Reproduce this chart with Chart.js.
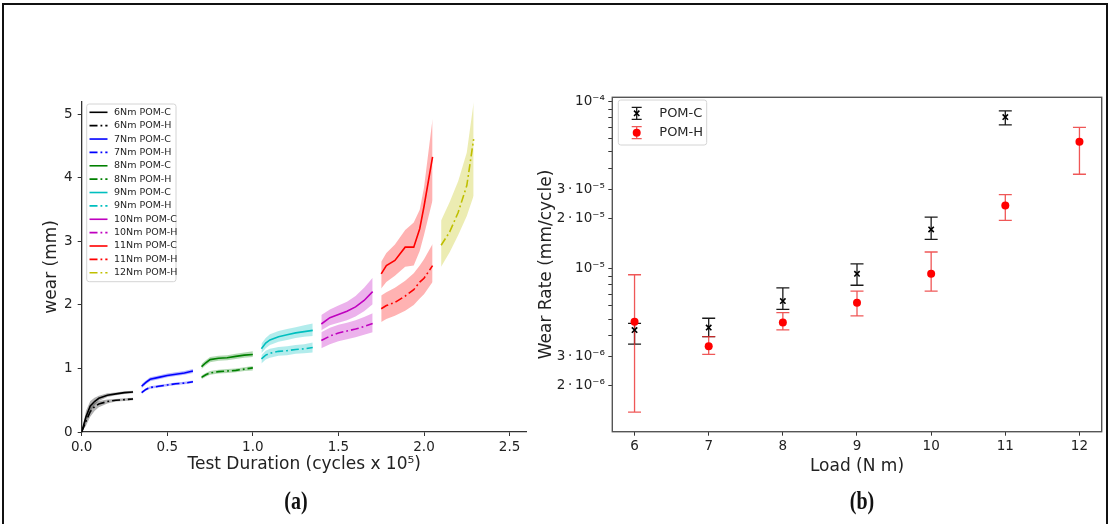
<!DOCTYPE html>
<html>
<head>
<meta charset="utf-8">
<script src="https://cdn.jsdelivr.net/npm/chart.js@4.4.0/dist/chart.umd.min.js"></script>
<style>
  html, body { margin: 0; padding: 0; background: #fff; }
  #page { position: relative; width: 1110px; height: 524px; overflow: hidden; background: #fff; }
  #frame { position: absolute; left: 2px; top: 3px; width: 1106px; height: 540px; border: 2px solid #111; box-sizing: border-box; }
  .panel { position: absolute; top: 0; height: 524px; }
  #wearBox { left: 0; width: 545px; }
  #rateBox { left: 520px; width: 590px; }
  .caption { position: absolute; top: 487px; width: 60px; text-align: center;
             font: bold 25px "Liberation Serif", "DejaVu Serif", serif; color: #111; transform: scaleX(0.8); }
</style>
</head>
<body>
<div id="page">
  <div id="frame"></div>
  <div class="panel" id="wearBox"><canvas id="wear"></canvas></div>
  <div class="panel" id="rateBox"><canvas id="rate"></canvas></div>
  <div class="caption" style="left: 266px;">(a)</div>
  <div class="caption" style="left: 832px;">(b)</div>
</div>
<script>
// ---- (a) wear vs test duration, mean curve with min/max band per run ----
const DUR_6 = [0, 0.025, 0.05, 0.075, 0.1, 0.15, 0.2, 0.25, 0.3];
const C6 = [0, 0.24, 0.41, 0.48, 0.53, 0.58, 0.60, 0.62, 0.63];
const C6_LO = [0, 0.14, 0.32, 0.42, 0.49, 0.55, 0.58, 0.60, 0.61];
const C6_HI = [0, 0.33, 0.49, 0.54, 0.57, 0.61, 0.62, 0.64, 0.65];
const H6 = [0, 0.17, 0.32, 0.40, 0.44, 0.48, 0.50, 0.51, 0.52];
const H6_LO = [0, 0.10, 0.24, 0.33, 0.39, 0.45, 0.48, 0.49, 0.50];
const H6_HI = [0, 0.26, 0.40, 0.46, 0.49, 0.51, 0.52, 0.53, 0.54];

const DUR_7 = [0.35, 0.375, 0.4, 0.45, 0.5, 0.55, 0.6, 0.65];
const C7 = [0.72, 0.78, 0.83, 0.86, 0.89, 0.91, 0.93, 0.96];
const C7_LO = [0.69, 0.75, 0.80, 0.83, 0.86, 0.88, 0.90, 0.93];
const C7_HI = [0.75, 0.81, 0.86, 0.89, 0.92, 0.94, 0.96, 0.99];
const H7 = [0.62, 0.67, 0.70, 0.72, 0.74, 0.76, 0.77, 0.79];
const H7_LO = [0.60, 0.65, 0.68, 0.70, 0.72, 0.74, 0.75, 0.77];
const H7_HI = [0.64, 0.69, 0.72, 0.74, 0.76, 0.78, 0.79, 0.81];

const DUR_8 = [0.7, 0.725, 0.75, 0.8, 0.85, 0.9, 0.95, 1.0];
const C8 = [1.03, 1.09, 1.14, 1.16, 1.17, 1.19, 1.21, 1.22];
const C8_LO = [0.99, 1.05, 1.10, 1.12, 1.13, 1.15, 1.17, 1.18];
const C8_HI = [1.07, 1.13, 1.18, 1.20, 1.21, 1.23, 1.25, 1.27];
const H8 = [0.86, 0.90, 0.93, 0.95, 0.96, 0.97, 0.99, 1.01];
const H8_LO = [0.83, 0.87, 0.90, 0.92, 0.93, 0.94, 0.96, 0.97];
const H8_HI = [0.89, 0.93, 0.96, 0.98, 0.99, 1.00, 1.02, 1.04];

const DUR_9 = [1.05, 1.075, 1.1, 1.15, 1.2, 1.25, 1.3, 1.35];
const C9 = [1.31, 1.40, 1.45, 1.50, 1.53, 1.56, 1.58, 1.60];
const C9_LO = [1.24, 1.32, 1.37, 1.42, 1.45, 1.48, 1.50, 1.51];
const C9_HI = [1.39, 1.48, 1.54, 1.59, 1.62, 1.65, 1.68, 1.71];
const H9 = [1.15, 1.21, 1.24, 1.27, 1.28, 1.30, 1.31, 1.33];
const H9_LO = [1.08, 1.14, 1.17, 1.20, 1.21, 1.23, 1.24, 1.25];
const H9_HI = [1.21, 1.28, 1.31, 1.34, 1.35, 1.37, 1.38, 1.41];

const DUR_10 = [1.4, 1.45, 1.5, 1.55, 1.6, 1.65, 1.7];
const C10 = [1.70, 1.80, 1.85, 1.90, 1.97, 2.07, 2.21];
const C10_LO = [1.60, 1.68, 1.72, 1.76, 1.82, 1.90, 2.01];
const C10_HI = [1.84, 1.93, 1.99, 2.05, 2.14, 2.27, 2.43];
const H10 = [1.44, 1.51, 1.56, 1.59, 1.62, 1.66, 1.71];
const H10_LO = [1.32, 1.38, 1.43, 1.46, 1.49, 1.53, 1.57];
const H10_HI = [1.57, 1.64, 1.69, 1.72, 1.76, 1.81, 1.87];

const DUR_11 = [1.75, 1.78, 1.83, 1.89, 1.94, 1.975, 2.0, 2.05];
const C11 = [2.49, 2.62, 2.70, 2.91, 2.91, 3.20, 3.55, 4.33];
const C11_LO = [2.26, 2.36, 2.46, 2.60, 2.62, 2.85, 3.10, 3.65];
const C11_HI = [2.68, 2.82, 2.95, 3.18, 3.30, 3.50, 3.85, 4.93];
const H11 = [1.94, 1.99, 2.04, 2.14, 2.24, 2.36, 2.42, 2.62];
const H11_LO = [1.73, 1.78, 1.83, 1.91, 2.00, 2.10, 2.17, 2.36];
const H11_HI = [2.15, 2.20, 2.27, 2.38, 2.50, 2.62, 2.72, 2.96];

const DUR_12 = [2.1, 2.15, 2.2, 2.25, 2.29];
const H12 = [2.94, 3.15, 3.46, 3.88, 4.61];
const H12_LO = [2.60, 2.83, 3.10, 3.40, 3.72];
const H12_HI = [3.33, 3.62, 3.95, 4.40, 5.19];

const DURATION_TICKS = [0, 0.5, 1.0, 1.5, 2.0, 2.5];
const WEAR_TICKS = [0, 1, 2, 3, 4, 5];

// ---- (b) wear rate vs load ----
const LOADS_C = [6, 7, 8, 9, 10, 11];
const RATE_C = [4.30e-6, 4.45e-6, 6.41e-6, 9.34e-6, 1.72e-5, 8.09e-5];
const RATE_C_LO = [3.54e-6, 3.93e-6, 5.72e-6, 7.97e-6, 1.50e-5, 7.27e-5];
const RATE_C_HI = [4.71e-6, 5.06e-6, 7.69e-6, 1.07e-5, 2.04e-5, 8.82e-5];

const LOADS_H = [6, 7, 8, 9, 10, 11, 12];
const RATE_H = [4.82e-6, 3.44e-6, 4.78e-6, 6.27e-6, 9.34e-6, 2.39e-5, 5.75e-5];
const RATE_H_LO = [1.39e-6, 3.08e-6, 4.31e-6, 5.23e-6, 7.35e-6, 1.95e-5, 3.68e-5];
const RATE_H_HI = [9.21e-6, 3.93e-6, 5.47e-6, 7.35e-6, 1.26e-5, 2.78e-5, 7.02e-5];

const LOAD_TICKS = [6, 7, 8, 9, 10, 11, 12];
const RATE_TICKS = [2e-6, 3e-6, 1e-5, 2e-5, 3e-5, 1e-4];
const RATE_TICK_LABELS = ['2\u2009·\u200910⁻⁶', '3\u2009·\u200910⁻⁶', '10⁻⁵', '2\u2009·\u200910⁻⁵', '3\u2009·\u200910⁻⁵', '10⁻⁴'];
const RATE_MINOR_TICKS = [4e-6, 5e-6, 6e-6, 7e-6, 8e-6, 9e-6, 4e-5, 5e-5, 6e-5, 7e-5, 8e-5, 9e-5];

// matplotlib single-letter colours
const K = '#000000', B = '#0000ff', G = '#008000', C = '#00bfbf', M = '#bf00bf', R = '#ff0000', Y = '#bfbf00';
const DASH_DOT = [8, 3, 1.8, 3];

const RUNS = [
  { label: '6Nm POM-C', color: K, dur: DUR_6, mean: C6, lo: C6_LO, hi: C6_HI },
  { label: '6Nm POM-H', color: K, dur: DUR_6, mean: H6, lo: H6_LO, hi: H6_HI, dash: true },
  { label: '7Nm POM-C', color: B, dur: DUR_7, mean: C7, lo: C7_LO, hi: C7_HI },
  { label: '7Nm POM-H', color: B, dur: DUR_7, mean: H7, lo: H7_LO, hi: H7_HI, dash: true },
  { label: '8Nm POM-C', color: G, dur: DUR_8, mean: C8, lo: C8_LO, hi: C8_HI },
  { label: '8Nm POM-H', color: G, dur: DUR_8, mean: H8, lo: H8_LO, hi: H8_HI, dash: true },
  { label: '9Nm POM-C', color: C, dur: DUR_9, mean: C9, lo: C9_LO, hi: C9_HI },
  { label: '9Nm POM-H', color: C, dur: DUR_9, mean: H9, lo: H9_LO, hi: H9_HI, dash: true },
  { label: '10Nm POM-C', color: M, dur: DUR_10, mean: C10, lo: C10_LO, hi: C10_HI },
  { label: '10Nm POM-H', color: M, dur: DUR_10, mean: H10, lo: H10_LO, hi: H10_HI, dash: true },
  { label: '11Nm POM-C', color: R, dur: DUR_11, mean: C11, lo: C11_LO, hi: C11_HI },
  { label: '11Nm POM-H', color: R, dur: DUR_11, mean: H11, lo: H11_LO, hi: H11_HI, dash: true },
  { label: '12Nm POM-H', color: Y, dur: DUR_12, mean: H12, lo: H12_LO, hi: H12_HI, dash: true }
];

Chart.defaults.font.family = '"DejaVu Sans", sans-serif';
Chart.defaults.color = '#222';

function withAlpha(hex, a) {
  const n = parseInt(hex.slice(1), 16);
  return `rgba(${n >> 16}, ${(n >> 8) & 255}, ${n & 255}, ${a})`;
}

const toPoints = (xs, ys) => xs.map((x, i) => ({ x, y: ys[i] }));

// bands first (upper edge, then lower edge filled back to it), mean lines on top
const wearSets = [];
RUNS.forEach(run => {
  wearSets.push({ data: toPoints(run.dur, run.hi), borderColor: 'transparent', borderWidth: 1,
                  pointRadius: 0, fill: false, order: 2 });
  wearSets.push({ data: toPoints(run.dur, run.lo), borderColor: 'transparent', borderWidth: 1,
                  pointRadius: 0, fill: '-1', backgroundColor: withAlpha(run.color, 0.3), order: 2 });
});
RUNS.forEach(run => {
  wearSets.push({ label: run.label, data: toPoints(run.dur, run.mean), borderColor: run.color,
                  borderWidth: 1.6, borderDash: run.dash ? DASH_DOT : [], pointRadius: 0,
                  fill: false, order: 1 });
});

// legend drawn inside the plot, matplotlib style
const lineLegend = {
  id: 'lineLegend',
  afterDraw(chart, args, opts) {
    const { ctx } = chart;
    const items = chart.data.datasets.filter(ds => ds.label);
    ctx.save();
    ctx.beginPath();
    ctx.roundRect(opts.left, opts.top, opts.width, opts.height, 2.5);
    ctx.fillStyle = 'rgba(255,255,255,0.85)';
    ctx.fill();
    ctx.strokeStyle = '#d4d4d4';
    ctx.lineWidth = 1;
    ctx.stroke();
    ctx.font = opts.font;
    ctx.textBaseline = 'middle';
    items.forEach((ds, i) => {
      const y = opts.firstRow + i * opts.rowGap;
      ctx.strokeStyle = ds.borderColor;
      ctx.lineWidth = ds.borderWidth;
      ctx.setLineDash(ds.borderDash);
      ctx.beginPath();
      ctx.moveTo(opts.lineX0, y);
      ctx.lineTo(opts.lineX1, y);
      ctx.stroke();
      ctx.setLineDash([]);
      ctx.fillStyle = '#262626';
      ctx.fillText(ds.label, opts.textX, y);
    });
    ctx.restore();
  }
};

new Chart(document.getElementById('wear'), {
  type: 'line',
  data: { datasets: wearSets },
  options: {
    responsive: true,
    maintainAspectRatio: false,
    animation: false,
    devicePixelRatio: 1,
    layout: { padding: { left: 41.8, top: 101.7, right: 18.3, bottom: 49.5 } },
    scales: {
      x: {
        type: 'linear', min: 0, max: 2.6,
        afterBuildTicks: s => { s.ticks = DURATION_TICKS.map(v => ({ value: v })); },
        afterFit: s => { s.height = 42.5; s.paddingLeft = 0; s.paddingRight = 0; },
        ticks: { callback: v => v.toFixed(1), padding: 3, maxRotation: 0, font: { size: 13.5 } },
        grid: { drawOnChartArea: false, tickLength: 4, color: '#333' },
        border: { color: '#333', width: 1.3 },
        title: { display: true, text: 'Test Duration (cycles x 10⁵)', font: { size: 17 }, padding: 0 }
      },
      y: {
        type: 'linear', min: 0, max: 5.2,
        afterBuildTicks: s => { s.ticks = WEAR_TICKS.map(v => ({ value: v })); },
        afterFit: s => { s.width = 39.9; s.paddingTop = 0; s.paddingBottom = 0; },
        ticks: { padding: 5, font: { size: 13.5 } },
        grid: { drawOnChartArea: false, tickLength: 4, color: '#333' },
        border: { color: '#333', width: 1.3 },
        title: { display: true, text: 'wear (mm)', font: { size: 17 }, padding: 0 }
      }
    },
    plugins: {
      legend: { display: false },
      tooltip: { enabled: false },
      lineLegend: { left: 86.7, top: 104, width: 89.3, height: 177.7, firstRow: 112.3, rowGap: 13.37,
                    lineX0: 89.5, lineX1: 107.5, textX: 114, font: '9.5px "DejaVu Sans"' }
    }
  },
  plugins: [lineLegend]
});

// ---- (b) ----
const CAP = 6.5;

function drawMarker(ctx, ds, x, y) {
  ctx.save();
  if (ds.pointStyle === 'crossRot') {
    const d = ds.pointRadius * Math.SQRT1_2;
    ctx.strokeStyle = ds.borderColor;
    ctx.lineWidth = ds.borderWidth;
    ctx.beginPath();
    ctx.moveTo(x - d, y - d); ctx.lineTo(x + d, y + d);
    ctx.moveTo(x - d, y + d); ctx.lineTo(x + d, y - d);
    ctx.stroke();
  } else {
    ctx.fillStyle = ds.backgroundColor;
    ctx.beginPath();
    ctx.arc(x, y, ds.pointRadius, 0, Math.PI * 2);
    ctx.fill();
  }
  ctx.restore();
}

function strokeErrorBar(ctx, x, top, bottom, cap) {
  ctx.beginPath();
  ctx.moveTo(x, top); ctx.lineTo(x, bottom);
  ctx.moveTo(x - cap, top); ctx.lineTo(x + cap, top);
  ctx.moveTo(x - cap, bottom); ctx.lineTo(x + cap, bottom);
  ctx.stroke();
}

const errorBars = {
  id: 'errorBars',
  beforeDatasetsDraw(chart) {
    const { ctx, scales: { x, y } } = chart;
    chart.data.datasets.forEach(ds => {
      ctx.save();
      ctx.strokeStyle = ds.errColor;
      ctx.lineWidth = 1.3;
      ds.data.forEach((p, j) => {
        strokeErrorBar(ctx, x.getPixelForValue(p.x),
          y.getPixelForValue(ds.errHigh[j]), y.getPixelForValue(ds.errLow[j]), CAP);
      });
      ctx.restore();
    });
  }
};

const axesFrame = {
  id: 'axesFrame',
  afterDatasetsDraw(chart) {
    const { ctx, chartArea: a } = chart;
    ctx.save();
    ctx.strokeStyle = '#555';
    ctx.lineWidth = 1.4;
    ctx.strokeRect(a.left, a.top, a.right - a.left, a.bottom - a.top);
    ctx.restore();
  }
};

const errLegend = {
  id: 'errLegend',
  afterDraw(chart, args, opts) {
    const { ctx } = chart;
    ctx.save();
    ctx.beginPath();
    ctx.roundRect(opts.left, opts.top, opts.width, opts.height, 2.5);
    ctx.fillStyle = 'rgba(255,255,255,0.85)';
    ctx.fill();
    ctx.strokeStyle = '#d4d4d4';
    ctx.lineWidth = 1;
    ctx.stroke();
    ctx.font = opts.font;
    ctx.textBaseline = 'middle';
    chart.data.datasets.forEach((ds, i) => {
      const y = opts.firstRow + i * opts.rowGap;
      ctx.strokeStyle = ds.errColor;
      ctx.lineWidth = 1.3;
      strokeErrorBar(ctx, opts.symbolX, y - 6, y + 6, 5);
      drawMarker(ctx, ds, opts.symbolX, y);
      ctx.fillStyle = '#262626';
      ctx.fillText(ds.label, opts.textX, y);
    });
    ctx.restore();
  }
};

new Chart(document.getElementById('rate'), {
  type: 'scatter',
  data: {
    datasets: [
      { label: 'POM-C', data: toPoints(LOADS_C, RATE_C), errLow: RATE_C_LO, errHigh: RATE_C_HI,
        errColor: '#1a1a1a', pointStyle: 'crossRot', pointRadius: 3.8, borderWidth: 1.6,
        borderColor: '#000', backgroundColor: '#000' },
      { label: 'POM-H', data: toPoints(LOADS_H, RATE_H), errLow: RATE_H_LO, errHigh: RATE_H_HI,
        errColor: 'rgba(235, 45, 45, 0.8)', pointStyle: 'circle', pointRadius: 4, borderWidth: 0,
        borderColor: '#f00', backgroundColor: '#f00' }
    ]
  },
  options: {
    responsive: true,
    maintainAspectRatio: false,
    animation: false,
    devicePixelRatio: 1,
    layout: { padding: { left: 16.3, top: 97.3, right: 8.3, bottom: 47.1 } },
    scales: {
      x: {
        type: 'linear', min: 5.7, max: 12.3,
        afterBuildTicks: s => { s.ticks = LOAD_TICKS.map(v => ({ value: v })); },
        afterFit: s => { s.height = 45.2; s.paddingLeft = 0; s.paddingRight = 0; },
        ticks: { padding: 3, maxRotation: 0, font: { size: 13.5 } },
        grid: { drawOnChartArea: false, tickLength: 4, color: '#333' },
        border: { display: false },
        title: { display: true, text: 'Load (N m)', font: { size: 17 }, padding: 0 }
      },
      y: {
        type: 'logarithmic', min: 1.06e-6, max: 1.062e-4,
        afterBuildTicks: s => {
          s.ticks = RATE_TICKS.concat(RATE_MINOR_TICKS).sort((a, b) => a - b).map(v => ({ value: v }));
        },
        afterFit: s => { s.width = 76; s.paddingTop = 0; s.paddingBottom = 0; },
        ticks: {
          autoSkip: false, padding: 3.5, font: { size: 13.5 },
          callback: v => {
            const i = RATE_TICKS.findIndex(t => Math.abs(t - v) / t < 1e-6);
            return i < 0 ? '' : RATE_TICK_LABELS[i];
          }
        },
        grid: { drawOnChartArea: false, tickLength: 4, color: '#333' },
        border: { display: false },
        title: { display: true, text: 'Wear Rate (mm/cycle)', font: { size: 17 }, padding: 0 }
      }
    },
    plugins: {
      legend: { display: false },
      tooltip: { enabled: false },
      errLegend: { left: 98.3, top: 100, width: 88.4, height: 45, firstRow: 113.3, rowGap: 19.4,
                   symbolX: 116.7, textX: 139.3, font: '13px "DejaVu Sans"' }
    }
  },
  plugins: [errorBars, axesFrame, errLegend]
});
</script>
</body>
</html>
